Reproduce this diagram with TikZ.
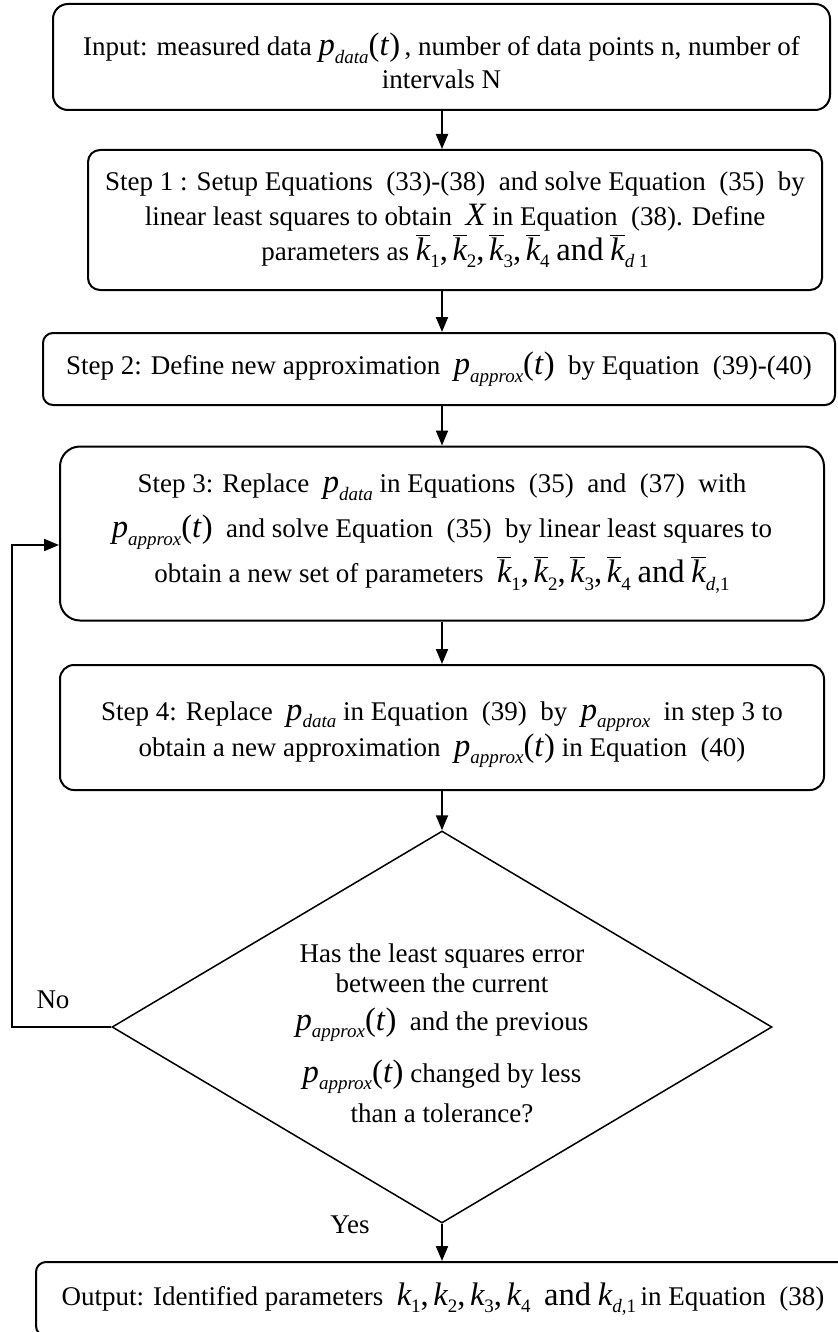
\documentclass[tikz,border=0pt]{standalone}
\usepackage{fontspec}
\setmainfont{Liberation Serif}
\usetikzlibrary{arrows.meta,shapes.geometric}
\newcommand{\vv}[1]{{\fontsize{16.3}{16.3}\selectfont\itshape #1}}
\newcommand{\vup}[1]{{\fontsize{16.3}{16.3}\selectfont #1}}
\newcommand{\sbs}[1]{\raisebox{-0.6ex}{\fontsize{9.5}{9.5}\selectfont #1}}
\newcommand{\pdata}{\vv{p}\sbs{\itshape data}}
\newcommand{\papx}{\vv{p}\sbs{\itshape approx}}
\newcommand{\argt}{\vup{(\textit{t})}}
\newcommand{\kbar}[1]{$\overline{\hbox{\vv{k}}}$\sbs{#1}}
\newcommand{\kpl}[1]{\vv{k}\sbs{#1}}
\newcommand{\cm}{\vup{,}\,}
\tikzset{
  boxline/.style={draw, line width=1pt, inner sep=0pt},
  txt/.style={align=center, inner sep=0pt},
  stepbox/.style={boxline, txt},
  arr/.style={line width=1pt, -{Triangle[width=6pt,length=7.5pt]}},
  lbl/.style={font=\fontsize{13.5}{15}\selectfont, inner sep=0pt}
}
\begin{document}
\begin{tikzpicture}[x=0.5pt,y=-0.5pt]
\useasboundingbox (0,0) rectangle (837,1332);
\coordinate (col) at (442,0);
% Input
\node[boxline, rounded corners=7.5pt, minimum width=388.5pt, minimum height=53pt] (in) at (441.5,57) {};
\node[txt, font={\fontsize{13.5}{16.5}\selectfont\lineskiplimit=-100pt}] (intext) at ([yshift=-2pt]in.center)
  {Input: measured data \pdata\argt\,, number of data points n, number of\\intervals N};
% Step 1
\node[stepbox, rounded corners=6pt, minimum width=367pt, minimum height=70pt,
  font={\fontsize{13.5}{17.5}\selectfont\lineskiplimit=-100pt}] (s1) at (455,220)
  {Step 1 : Setup Equations\ \ (33)-(38)\ \ and solve Equation\ \ (35)\ \ by\\
   linear least squares to obtain\ \ \vv{X} in Equation\ \ (38). Define\\
   parameters as \kbar{1}\cm\kbar{2}\cm\kbar{3}\cm\kbar{4}\ \vup{and} \kbar{\itshape d\upshape\ 1}};
% Step 2
\node[stepbox, rounded corners=5pt, minimum width=396pt, minimum height=36pt,
  font=\fontsize{13.5}{16}\selectfont] (s2) at (439,369)
  {Step 2: Define new approximation\ \ \papx\argt\ \ by Equation\ \ (39)-(40)};
% Step 3
\node[stepbox, rounded corners=10pt, minimum width=382pt, minimum height=87pt,
  font={\fontsize{13.5}{22.5}\selectfont\lineskiplimit=-100pt}] (s3) at (442,533.5)
  {Step 3: Replace\ \ \pdata\ in Equations\ \ (35)\ \ and\ \ (37)\ \ with\\
   \papx\argt\ \ and solve Equation\ \ (35)\ \ by linear least squares to\\
   obtain a new set of parameters\ \ \kbar{1}\cm\kbar{2}\cm\kbar{3}\cm\kbar{4}\ \vup{and} \kbar{\itshape d\upshape,1}};
% Step 4
\node[boxline, rounded corners=7pt, minimum width=382pt, minimum height=62.5pt] (s4) at (442,727.5) {};
\node[txt, font={\fontsize{13.5}{18}\selectfont\lineskiplimit=-100pt}] (s4text) at ([yshift=-3.5pt]s4.center)
  {Step 4: Replace\ \ \pdata\ in Equation\ \ (39)\ \ by\ \ \papx\ \ in step 3 to\\
   obtain a new approximation\ \ \papx\argt\ in Equation\ \ (40)};
% Decision
\node[diamond, draw, line width=0.75pt, minimum width=330pt, minimum height=196pt, inner sep=0pt] (dec) at (442,1027) {};
\node[txt, font={\fontsize{13.5}{15}\selectfont\lineskiplimit=-100pt}] (dectext) at (442,1033)
  {Has the least squares error\\[0pt]
   between the current\\[4pt]
   \papx\argt\ \ and the previous\\[11pt]
   \papx\argt\ changed by less\\[5pt]
   than a tolerance?};
% Output
\node[stepbox, rounded corners=5pt, minimum width=407pt, minimum height=37pt,
  font=\fontsize{13.5}{16}\selectfont] (out) at (443,1299)
  {Output: Identified parameters\ \ \kpl{1}\cm\kpl{2}\cm\kpl{3}\cm\kpl{4}\ \ \vup{and} \kpl{\itshape d\upshape,1}\,in Equation\ \ (38)};
\node[lbl] (no) at (53,1000) {No};
\node[lbl] (yes) at (350,1225) {Yes};
\coordinate (s3in) at ([yshift=-5.75pt]s3.west);
\draw[arr] (in.south -| col) -- (s1.north -| col);
\draw[arr] (s1.south -| col) -- (s2.north -| col);
\draw[arr] (s2.south -| col) -- (s3.north -| col);
\draw[arr] (s3.south -| col) -- (s4.north -| col);
\draw[arr] (s4.south -| col) -- (dec.north);
\draw[arr] (dec.south) -- (dec.south |- out.north);
\draw[arr] (dec.west) -- ++(-99,0) |- (s3in);
\end{tikzpicture}
\end{document}
